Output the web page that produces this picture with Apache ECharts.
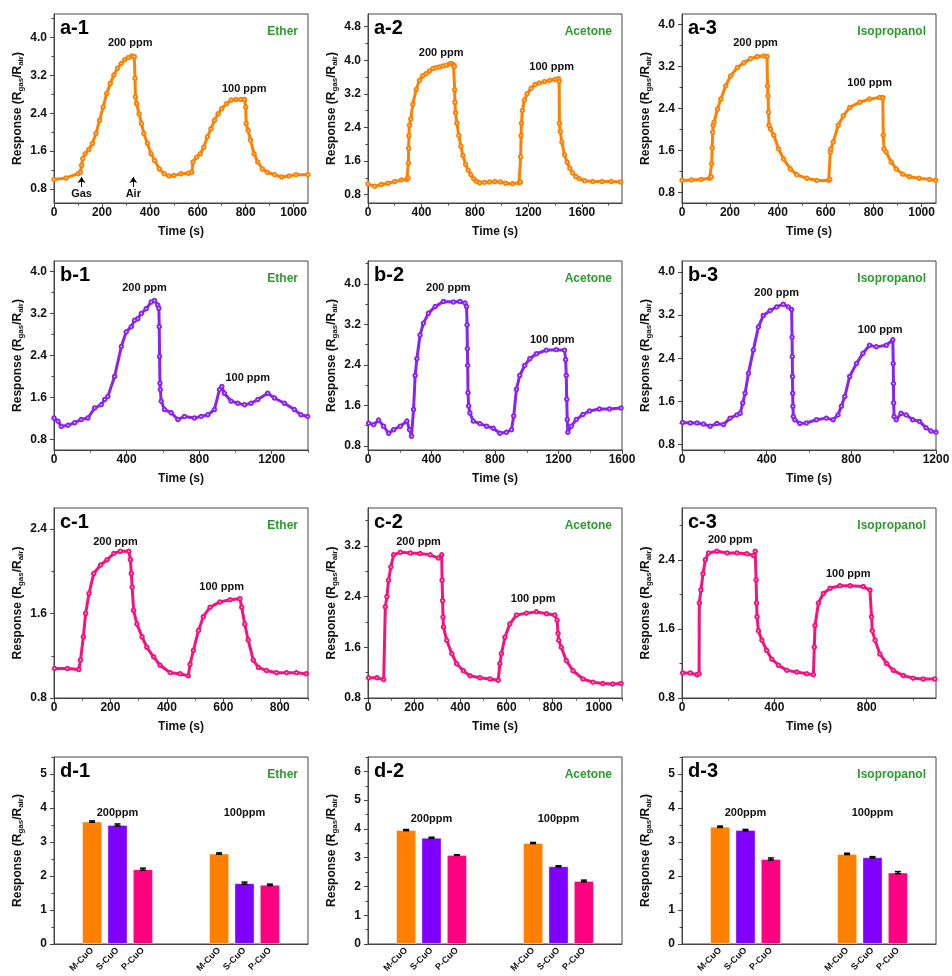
<!DOCTYPE html>
<html>
<head>
<meta charset="utf-8">
<title>Gas response of M-CuO, S-CuO and P-CuO</title>
<script src="https://cdn.jsdelivr.net/npm/echarts@6/dist/echarts.min.js"></script>
<style>
  html, body { margin: 0; padding: 0; background: #fff; }
  #main { width: 952px; height: 976px; }
</style>
</head>
<body>
<div id="main"></div>
<script>
// ---- data: [time (s), response] ----
const a1Ether = [[0,1.0],[50,1.03],[100,1.12],[110,1.15],[115,1.30],[120,1.44],[130,1.54],[145,1.63],[160,1.76],[175,1.97],[190,2.25],[205,2.53],[220,2.82],[235,3.03],[250,3.21],[265,3.35],[280,3.45],[295,3.53],[310,3.58],[325,3.61],[335,3.60],[338,3.14],[340,2.75],[345,2.60],[355,2.39],[365,2.18],[375,1.97],[390,1.76],[405,1.54],[420,1.40],[440,1.22],[460,1.12],[480,1.07],[500,1.08],[530,1.12],[560,1.13],[575,1.15],[580,1.37],[595,1.47],[610,1.54],[625,1.68],[640,1.90],[655,2.07],[670,2.25],[685,2.39],[700,2.50],[720,2.60],[740,2.68],[760,2.69],[780,2.69],[795,2.69],[800,2.53],[802,2.18],[810,2.04],[820,1.83],[835,1.54],[850,1.37],[870,1.22],[890,1.15],[920,1.10],[950,1.05],[980,1.07],[1010,1.10],[1060,1.10]];
const a2Acetone = [[0,1.05],[50,1.00],[100,1.04],[150,1.07],[200,1.11],[250,1.15],[290,1.16],[300,1.20],[302,1.55],[304,1.9],[306,2.2],[310,2.45],[320,2.6],[335,2.95],[360,3.3],[385,3.52],[410,3.63],[435,3.68],[460,3.74],[485,3.80],[510,3.82],[535,3.84],[560,3.86],[585,3.88],[610,3.91],[625,3.92],[640,3.89],[646,3.85],[648,3.3],[650,3.0],[655,2.75],[665,2.5],[680,2.2],[695,1.95],[710,1.73],[730,1.52],[750,1.38],[770,1.27],[790,1.18],[810,1.12],[835,1.08],[870,1.09],[910,1.10],[950,1.11],[990,1.10],[1030,1.07],[1080,1.06],[1130,1.08],[1140,1.10],[1142,1.7],[1145,2.2],[1148,2.5],[1155,2.8],[1170,3.05],[1190,3.2],[1220,3.33],[1250,3.42],[1280,3.46],[1320,3.49],[1360,3.52],[1400,3.54],[1425,3.56],[1430,3.5],[1432,2.5],[1438,2.3],[1450,2.05],[1470,1.75],[1490,1.57],[1510,1.43],[1530,1.32],[1555,1.23],[1580,1.18],[1620,1.13],[1680,1.11],[1750,1.11],[1820,1.11],[1890,1.10]];
const a3Isopropanol = [[0,1.03],[40,1.04],[80,1.05],[115,1.07],[122,1.10],[124,1.35],[126,1.65],[128,1.95],[130,2.08],[134,2.14],[148,2.39],[162,2.58],[182,2.83],[203,3.02],[231,3.18],[258,3.27],[286,3.35],[314,3.39],[341,3.40],[355,3.39],[357,2.83],[359,2.64],[361,2.33],[363,2.08],[369,2.01],[383,1.89],[403,1.63],[424,1.44],[452,1.25],[479,1.14],[521,1.07],[562,1.03],[612,1.03],[617,1.05],[619,1.57],[621,1.63],[631,1.76],[652,2.08],[673,2.26],[700,2.42],[742,2.52],[783,2.58],[825,2.61],[838,2.61],[840,1.89],[843,1.63],[852,1.57],[873,1.38],[894,1.25],[921,1.15],[949,1.10],[990,1.07],[1032,1.05],[1059,1.03]];
const b1Ether = [[0,1.21],[22,1.15],[40,1.05],[77,1.07],[114,1.12],[150,1.18],[187,1.21],[224,1.40],[260,1.46],[279,1.56],[297,1.62],[334,2.0],[371,2.57],[398,2.85],[426,2.95],[444,3.07],[462,3.10],[481,3.20],[508,3.29],[536,3.42],[554,3.45],[572,3.36],[578,3.3],[580,2.95],[582,2.38],[584,1.87],[586,1.75],[591,1.53],[609,1.37],[646,1.31],[683,1.18],[719,1.24],[774,1.21],[811,1.24],[848,1.27],[884,1.37],[912,1.75],[925,1.81],[939,1.68],[976,1.53],[1013,1.49],[1050,1.46],[1086,1.49],[1123,1.56],[1178,1.68],[1215,1.59],[1270,1.49],[1325,1.37],[1361,1.27],[1398,1.24]];
const b2Acetone = [[4,1.25],[36,1.22],[67,1.31],[98,1.19],[130,1.05],[161,1.12],[203,1.19],[245,1.29],[262,1.12],[274,0.99],[287,1.52],[297,2.19],[308,2.52],[328,2.99],[349,3.22],[381,3.42],[423,3.55],[475,3.65],[538,3.64],[579,3.65],[611,3.62],[621,3.55],[624,3.19],[626,2.72],[628,2.39],[630,1.85],[634,1.59],[642,1.45],[663,1.29],[705,1.24],[747,1.19],[789,1.15],[831,1.05],[872,1.07],[904,1.12],[918,1.39],[935,1.92],[956,2.19],[987,2.39],[1019,2.52],[1061,2.62],[1123,2.69],[1186,2.70],[1238,2.69],[1245,2.5],[1249,2.19],[1252,1.72],[1255,1.32],[1259,1.07],[1280,1.19],[1312,1.32],[1354,1.42],[1395,1.49],[1458,1.53],[1521,1.53],[1594,1.55]];
const b3Isopropanol = [[3,1.21],[39,1.20],[71,1.20],[102,1.18],[133,1.14],[165,1.19],[196,1.17],[227,1.29],[259,1.35],[275,1.38],[287,1.57],[298,1.75],[314,2.12],[337,2.55],[361,2.98],[384,3.19],[416,3.28],[447,3.35],[478,3.40],[502,3.35],[518,3.30],[520,2.79],[521,2.43],[522,2.06],[523,1.75],[524,1.51],[526,1.32],[533,1.26],[557,1.19],[588,1.20],[635,1.26],[682,1.29],[714,1.26],[737,1.35],[753,1.51],[769,1.69],[792,2.06],[824,2.30],[855,2.49],[886,2.64],[918,2.61],[965,2.64],[996,2.74],[998,2.30],[999,1.93],[1000,1.57],[1002,1.32],[1012,1.26],[1035,1.38],[1059,1.35],[1090,1.26],[1122,1.23],[1153,1.11],[1176,1.05],[1200,1.03]];
const c1Ether = [[2,1.08],[47,1.08],[88,1.07],[94,1.16],[104,1.38],[112,1.60],[124,1.79],[141,1.98],[165,2.06],[188,2.11],[212,2.17],[235,2.19],[265,2.19],[271,2.11],[274,1.98],[277,1.85],[282,1.63],[294,1.50],[312,1.38],[329,1.28],[353,1.19],[376,1.11],[412,1.04],[447,1.03],[476,1.01],[482,1.12],[494,1.25],[512,1.44],[529,1.57],[553,1.66],[588,1.71],[624,1.73],[659,1.74],[665,1.66],[676,1.50],[688,1.35],[706,1.16],[724,1.09],[753,1.06],[788,1.04],[824,1.04],[859,1.04],[894,1.03]];
const c2Acetone = [[3,1.12],[39,1.12],[68,1.09],[75,2.24],[82,2.40],[89,2.66],[99,2.87],[111,3.06],[140,3.10],[183,3.09],[226,3.08],[269,3.06],[305,3.01],[319,3.06],[321,2.66],[323,2.34],[325,2.08],[327,1.92],[341,1.71],[363,1.50],[384,1.34],[413,1.23],[442,1.15],[485,1.12],[528,1.10],[564,1.08],[571,1.34],[578,1.50],[593,1.76],[614,1.97],[643,2.11],[686,2.14],[729,2.16],[773,2.13],[809,2.11],[819,2.03],[823,1.82],[826,1.71],[837,1.60],[859,1.39],[888,1.23],[931,1.10],[974,1.05],[1017,1.03],[1060,1.02],[1096,1.03]];
const c3Isopropanol = [[3,1.09],[36,1.09],[65,1.07],[74,1.08],[75,1.90],[82,2.05],[91,2.24],[101,2.40],[115,2.48],[151,2.50],[195,2.48],[238,2.48],[281,2.47],[310,2.45],[317,2.50],[321,2.17],[323,1.90],[325,1.74],[331,1.58],[346,1.47],[367,1.35],[389,1.25],[418,1.18],[454,1.12],[497,1.10],[540,1.08],[569,1.07],[573,1.39],[576,1.64],[591,1.90],[612,2.01],[641,2.07],[684,2.10],[728,2.10],[785,2.09],[814,2.05],[821,1.74],[824,1.58],[836,1.47],[857,1.31],[886,1.20],[915,1.12],[958,1.06],[1001,1.03],[1045,1.02],[1095,1.02]];

// ---- bar data (d panels): M-CuO, S-CuO, P-CuO ----
const materials = ['M-CuO', 'S-CuO', 'P-CuO'];
const concentrations = ['200ppm', '100ppm'];
const d1Ether200 = [3.60, 3.50, 2.20], d1Ether100 = [2.66, 1.79, 1.74];
const d1Err200 = [0.02, 0.03, 0.03], d1Err100 = [0.02, 0.03, 0.02];
const d2Acetone200 = [3.96, 3.69, 3.09], d2Acetone100 = [3.51, 2.70, 2.19];
const d2Err200 = [0.02, 0.02, 0.01], d2Err100 = [0.02, 0.02, 0.03];
const d3Isoprop200 = [3.45, 3.35, 2.50], d3Isoprop100 = [2.65, 2.55, 2.10];
const d3Err200 = [0.02, 0.02, 0.03], d3Err100 = [0.02, 0.02, 0.03];

// ---- tick labels ----
const xTicks0to1000 = [0, 200, 400, 600, 800, 1000];
const xTicks0to1600 = [0, 400, 800, 1200, 1600];
const xTicks0to1200 = [0, 400, 800, 1200];
const xTicks0to800 = [0, 200, 400, 600, 800];
const yTicks08to40 = [0.8, 1.6, 2.4, 3.2, 4.0];
const yTicks08to48 = [0.8, 1.6, 2.4, 3.2, 4.0, 4.8];
const yTicks08to24 = [0.8, 1.6, 2.4];
const yTicks08to32 = [0.8, 1.6, 2.4, 3.2];
const yTicks0to5 = [0, 1, 2, 3, 4, 5];
const yTicks0to6 = [0, 1, 2, 3, 4, 5, 6];

// ---- style / layout ----
const FONT = '"Liberation Sans", Arial, Helvetica, sans-serif';
const ORANGE = '#ff8000', PURPLE = '#8a22f0', PINK = '#f5127e';
const BAR_COLORS = ['#ff8000', '#8000ff', '#ff0080'];
const GREEN = '#2e9a2e', TXT = '#111', FRAME = '#444';
const COL_LEFT = [54, 368, 682], GRID_W = 254;
const ROW_TOP = [14, 261, 508, 757], ROW_H = [189, 189, 190, 187];
const SLOTS = [[1, 2, 3], [6, 7, 8]];   // category slots of the two bar groups
const N_SLOTS = 10;

const linePanels = [
  {tag: 'a-1', gas: 'Ether', row: 0, col: 0, data: a1Ether, color: ORANGE, xMax: 1060, xTicks: xTicks0to1000, yMin: 0.5, yMax: 4.5, yTicks: yTicks08to40,
   notes: [[318, 3.88, '200 ppm'], [794, 2.92, '100 ppm'], [115, 0.70, 'Gas'], [331, 0.70, 'Air']], arrows: [115, 331]},
  {tag: 'a-2', gas: 'Acetone', row: 0, col: 1, data: a2Acetone, color: ORANGE, xMax: 1900, xTicks: xTicks0to1600, yMin: 0.6, yMax: 5.1, yTicks: yTicks08to48,
   notes: [[547, 4.18, '200 ppm'], [1374, 3.83, '100 ppm']]},
  {tag: 'a-3', gas: 'Isopropanol', row: 0, col: 2, data: a3Isopropanol, color: ORANGE, xMax: 1060, xTicks: xTicks0to1000, yMin: 0.6, yMax: 4.2, yTicks: yTicks08to40,
   notes: [[307, 3.65, '200 ppm'], [783, 2.88, '100 ppm']]},
  {tag: 'b-1', gas: 'Ether', row: 1, col: 0, data: b1Ether, color: PURPLE, xMax: 1400, xTicks: xTicks0to1200, yMin: 0.6, yMax: 4.2, yTicks: yTicks08to40,
   notes: [[499, 3.68, '200 ppm'], [1068, 1.97, '100 ppm']]},
  {tag: 'b-2', gas: 'Acetone', row: 1, col: 1, data: b2Acetone, color: PURPLE, xMax: 1600, xTicks: xTicks0to1600, yMin: 0.72, yMax: 4.45, yTicks: yTicks08to40,
   notes: [[506, 3.92, '200 ppm'], [1161, 2.9, '100 ppm']]},
  {tag: 'b-3', gas: 'Isopropanol', row: 1, col: 2, data: b3Isopropanol, color: PURPLE, xMax: 1200, xTicks: xTicks0to1200, yMin: 0.7, yMax: 4.2, yTicks: yTicks08to40,
   notes: [[447, 3.6, '200 ppm'], [936, 2.92, '100 ppm']]},
  {tag: 'c-1', gas: 'Ether', row: 2, col: 0, data: c1Ether, color: PINK, xMax: 900, xTicks: xTicks0to800, yMin: 0.8, yMax: 2.6, yTicks: yTicks08to24,
   notes: [[218, 2.28, '200 ppm'], [594, 1.85, '100 ppm']]},
  {tag: 'c-2', gas: 'Acetone', row: 2, col: 1, data: c2Acetone, color: PINK, xMax: 1100, xTicks: xTicks0to1000, yMin: 0.8, yMax: 3.8, yTicks: yTicks08to32,
   notes: [[219, 3.27, '200 ppm'], [715, 2.36, '100 ppm']]},
  {tag: 'c-3', gas: 'Isopropanol', row: 2, col: 2, data: c3Isopropanol, color: PINK, xMax: 1100, xTicks: xTicks0to1200, yMin: 0.8, yMax: 3.0, yTicks: yTicks08to24,
   notes: [[209, 2.63, '200 ppm'], [720, 2.24, '100 ppm']]}
];

const barPanels = [
  {tag: 'd-1', gas: 'Ether', col: 0, v200: d1Ether200, v100: d1Ether100, e200: d1Err200, e100: d1Err100, yMax: 5.5, yTicks: yTicks0to5, noteY: 3.86},
  {tag: 'd-2', gas: 'Acetone', col: 1, v200: d2Acetone200, v100: d2Acetone100, e200: d2Err200, e100: d2Err100, yMax: 6.5, yTicks: yTicks0to6, noteY: 4.36},
  {tag: 'd-3', gas: 'Isopropanol', col: 2, v200: d3Isoprop200, v100: d3Isoprop100, e200: d3Err200, e100: d3Err100, yMax: 5.5, yTicks: yTicks0to5, noteY: 3.86}
];

const option = {animation: false, backgroundColor: '#fff', grid: [], xAxis: [], yAxis: [], series: [], graphic: []};

const nameStyle = {
  color: TXT, fontSize: 12, fontWeight: 'bold', fontFamily: FONT, lineHeight: 14,
  rich: {s: {fontSize: 8, fontWeight: 'bold', fontFamily: FONT, color: TXT, lineHeight: 8, verticalAlign: 'bottom'}}
};

function minorOf(ticks, min, max) {
  const step = ticks[1] - ticks[0], out = [];
  for (let v = ticks[0] - step / 2; v <= max + 1e-9; v += step) {
    if (v >= min - 1e-9) out.push(+v.toFixed(4));
  }
  return out;
}

function addGrid(row, col) {
  const g = {left: COL_LEFT[col], top: ROW_TOP[row], width: GRID_W, height: ROW_H[row],
    show: true, borderColor: FRAME, borderWidth: 1, backgroundColor: 'transparent',
    containLabel: false, outerBoundsMode: 'none'};
  option.grid.push(g);
  return option.grid.length - 1;
}

// main axis with labels + an overlay axis that only carries the short minor ticks
function addValueAxes(list, k, min, max, ticks, fmt, isY, name) {
  const base = {type: 'value', gridIndex: k, min, max, position: isY ? 'left' : 'bottom', offset: 0,
    splitLine: {show: false}, axisLine: {show: true, onZero: false, lineStyle: {color: FRAME, width: 1}}};
  list.push(Object.assign({}, base, {
    axisTick: {show: true, inside: false, length: 4, customValues: ticks, lineStyle: {color: FRAME}},
    axisLabel: {customValues: ticks, formatter: fmt, color: TXT, fontSize: 12, fontWeight: 'bold', fontFamily: FONT, margin: isY ? 7 : 4},
    name: name, nameLocation: 'middle', nameGap: isY ? 29 : 22, nameRotate: isY ? 90 : 0,
    nameTextStyle: nameStyle, nameMoveOverlap: false
  }));
  list.push(Object.assign({}, base, {
    axisLine: {show: false}, axisLabel: {show: false},
    axisTick: {show: true, inside: false, length: 2.5, customValues: minorOf(ticks, min, max), lineStyle: {color: FRAME}}
  }));
  return list.length - 2;
}

function addCornerTexts(k, tag, gas) {
  const g = option.grid[k];
  option.graphic.push({type: 'text', left: g.left + 6, top: g.top + 4, z: 100,
    style: {text: tag, font: 'bold 20px ' + FONT, fill: '#000'}});
  option.graphic.push({type: 'text', right: 952 - (g.left + g.width) + 10, top: g.top + 12, z: 100,
    style: {text: gas, font: 'bold 12px ' + FONT, fill: GREEN}});
}

const noteLabel = {show: true, position: 'inside', formatter: '{b}', color: TXT, fontSize: 11, fontWeight: 'bold', fontFamily: FONT};

linePanels.forEach(p => {
  const k = addGrid(p.row, p.col);
  const xi = addValueAxes(option.xAxis, k, 0, p.xMax, p.xTicks, v => String(v), false, 'Time (s)');
  const yi = addValueAxes(option.yAxis, k, p.yMin, p.yMax, p.yTicks, v => v.toFixed(1), true, 'Response (R{s|gas}/R{s|air})');
  const s = {
    type: 'line', xAxisIndex: xi, yAxisIndex: yi, data: p.data, silent: true, clip: true,
    symbol: 'emptyCircle', symbolSize: 3.5, showAllSymbol: true,
    lineStyle: {width: 3, color: p.color}, itemStyle: {color: p.color, borderWidth: 1},
    markPoint: {silent: true, symbol: 'circle', symbolSize: 1, itemStyle: {color: 'rgba(0,0,0,0)'}, label: noteLabel,
      data: p.notes.map(n => ({coord: [n[0], n[1]], name: n[2]}))}
  };
  if (p.arrows) {
    s.markLine = {silent: true, symbol: ['none', 'arrow'], symbolSize: 6, label: {show: false},
      lineStyle: {color: '#000', width: 1, type: 'solid'},
      data: p.arrows.map(t => [{coord: [t, 0.84]}, {coord: [t, 1.05]}])};
  }
  option.series.push(s);
  addCornerTexts(k, p.tag, p.gas);
});

const slotLabels = Array.from({length: N_SLOTS}, () => '');
SLOTS.forEach(group => group.forEach((slot, i) => { slotLabels[slot] = materials[i]; }));

barPanels.forEach(p => {
  const k = addGrid(3, p.col);
  option.xAxis.push({type: 'category', gridIndex: k, data: slotLabels, position: 'bottom',
    axisLine: {show: true, onZero: false, lineStyle: {color: FRAME}}, axisTick: {show: false},
    axisLabel: {interval: 0, rotate: 45, color: TXT, fontSize: 9, fontWeight: 'bold', fontFamily: FONT, margin: 5},
    splitLine: {show: false}});
  const xi = option.xAxis.length - 1;
  const yi = addValueAxes(option.yAxis, k, 0, p.yMax, p.yTicks, v => String(v), true, 'Response (R{s|gas}/R{s|air})');
  const groups = [[p.v200, p.e200], [p.v100, p.e100]];
  materials.forEach((m, i) => {
    const data = Array.from({length: N_SLOTS}, () => null);
    groups.forEach((g, gi) => { data[SLOTS[gi][i]] = g[0][i]; });
    const s = {type: 'bar', name: m, xAxisIndex: xi, yAxisIndex: yi, stack: 'd' + k, data, barWidth: '79%', silent: true,
      itemStyle: {color: BAR_COLORS[i], borderColor: 'rgba(255,255,255,0.35)', borderWidth: 1}};
    if (i === 0) {
      s.markPoint = {silent: true, symbol: 'circle', symbolSize: 1, itemStyle: {color: 'rgba(0,0,0,0)'}, label: noteLabel,
        data: concentrations.map((c, gi) => ({coord: [SLOTS[gi][1], p.noteY], name: c}))};
    }
    option.series.push(s);
  });
  const errData = [];
  groups.forEach((g, gi) => materials.forEach((m, i) => errData.push([SLOTS[gi][i], g[0][i], g[1][i]])));
  option.series.push({
    type: 'custom', xAxisIndex: xi, yAxisIndex: yi, data: errData, silent: true, z: 5,
    encode: {x: 0, y: 1},
    renderItem: (params, api) => {
      const x = api.coord([api.value(0), api.value(1)])[0];
      const top = api.coord([api.value(0), api.value(1) + api.value(2)])[1];
      const bot = api.coord([api.value(0), api.value(1) - api.value(2)])[1];
      const st = {stroke: '#000', lineWidth: 1.5};
      return {type: 'group', children: [
        {type: 'line', shape: {x1: x, y1: top, x2: x, y2: bot}, style: st},
        {type: 'line', shape: {x1: x - 3, y1: top, x2: x + 3, y2: top}, style: st},
        {type: 'line', shape: {x1: x - 3, y1: bot, x2: x + 3, y2: bot}, style: st}
      ]};
    }
  });
  addCornerTexts(k, p.tag, p.gas);
});

const chart = echarts.init(document.getElementById('main'), null, {renderer: 'canvas'});
chart.setOption(option);
</script>
</body>
</html>
